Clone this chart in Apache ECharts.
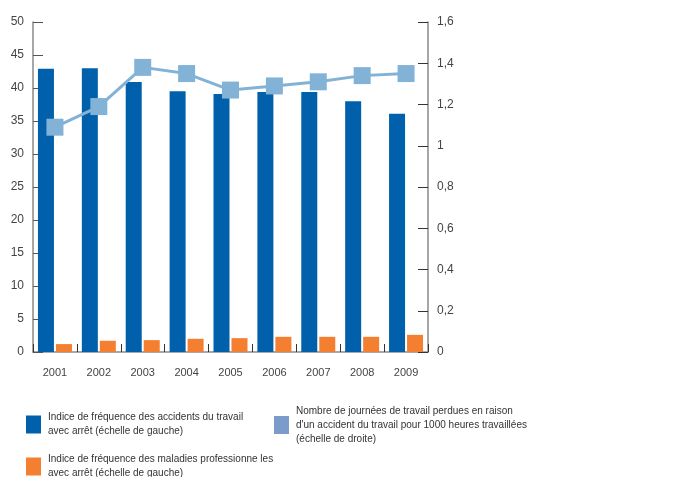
<!DOCTYPE html>
<html>
<head>
<meta charset="utf-8">
<script src="https://cdn.jsdelivr.net/npm/echarts@6/dist/echarts.min.js"></script>
<style>
  html, body { margin: 0; padding: 0; background: #fff; }
  #chart { width: 689px; height: 477px; }
</style>
</head>
<body>
<div id="chart"></div>
<script>
// Years on the horizontal axis
var years = ['2001', '2002', '2003', '2004', '2005', '2006', '2007', '2008', '2009'];

// Frequency index of work accidents with time off (left scale)
var accidents = [42.9, 43.0, 40.9, 39.5, 39.1, 39.4, 39.4, 38.0, 36.1];

// Frequency index of occupational diseases with time off (left scale)
var maladies = [1.2, 1.7, 1.8, 2.0, 2.1, 2.3, 2.3, 2.3, 2.6];

// Working days lost per 1000 hours worked due to accidents (right scale)
var journees = [1.09, 1.19, 1.38, 1.35, 1.27, 1.29, 1.31, 1.34, 1.35];

var names = [
  'Indice de fréquence des accidents du travail\navec arrêt (échelle de gauche)',
  'Indice de fréquence des maladies professionne les\navec arrêt (échelle de gauche)',
  'Nombre de journées de travail perdues en raison\nd\'un accident du travail pour 1000 heures travaillées\n(échelle de droite)'
];

var FONT = 'Liberation Sans';
var axisGrey = '#8a8a8a';
var labelCol = '#444';

function legendAt(left, top, data, textPad) {
  return {
    orient: 'vertical',
    left: left,
    top: top,
    icon: 'rect',
    itemWidth: 15,
    itemHeight: 18,
    padding: 0,
    selectedMode: false,
    data: data,
    textStyle: { fontFamily: FONT, fontSize: 10, color: '#333', lineHeight: 14, padding: textPad }
  };
}

var chart = echarts.init(document.getElementById('chart'));
chart.setOption({
  animation: false,
  textStyle: { fontFamily: FONT },
  grid: { left: 33, right: 261, top: 22, bottom: 125 },
  legend: [
    legendAt(26, 408, [names[0]], [0, 0, 5, 2]),
    legendAt(26, 450, [names[1]], [0, 0, 5, 2]),
    legendAt(274, 404, [{ name: names[2], itemStyle: { color: '#7b9bcb' } }], [0, 0, 0, 2])
  ],
  xAxis: {
    type: 'category',
    data: years,
    boundaryGap: true,
    axisLine: { lineStyle: { color: axisGrey, width: 1.5 } },
    axisTick: { show: true, inside: true, length: 8, lineStyle: { color: '#333' } },
    axisLabel: { color: labelCol, fontSize: 11, margin: 15 }
  },
  yAxis: [
    {
      type: 'value', min: 0, max: 50, interval: 5,
      axisLine: { show: true, lineStyle: { color: axisGrey, width: 1.5 } },
      axisTick: { show: true, inside: true, length: 10, lineStyle: { color: '#555' } },
      axisLabel: { color: labelCol, fontSize: 12, margin: 9 },
      splitLine: { show: false }
    },
    {
      type: 'value', min: 0, max: 1.6, interval: 0.2, position: 'right',
      axisLine: { show: true, lineStyle: { color: axisGrey, width: 1.5 } },
      axisTick: { show: true, inside: true, length: 10, lineStyle: { color: '#333' } },
      axisLabel: {
        color: labelCol, fontSize: 12, margin: 9,
        formatter: function (v) { return String(Math.round(v * 10) / 10).replace('.', ','); }
      },
      splitLine: { show: false }
    }
  ],
  series: [
    {
      name: names[0], type: 'bar', data: accidents, yAxisIndex: 0,
      barWidth: 16, barGap: '12.5%',
      itemStyle: { color: '#0060ab' }
    },
    {
      name: names[1], type: 'bar', data: maladies, yAxisIndex: 0,
      barWidth: 16, barGap: '12.5%',
      itemStyle: { color: '#f47f30' }
    },
    {
      name: names[2], type: 'line', data: journees, yAxisIndex: 1,
      symbol: 'rect', symbolSize: 17,
      lineStyle: { color: '#82b3d6', width: 3 },
      itemStyle: { color: '#82b3d6' }
    }
  ]
});
</script>
</body>
</html>
